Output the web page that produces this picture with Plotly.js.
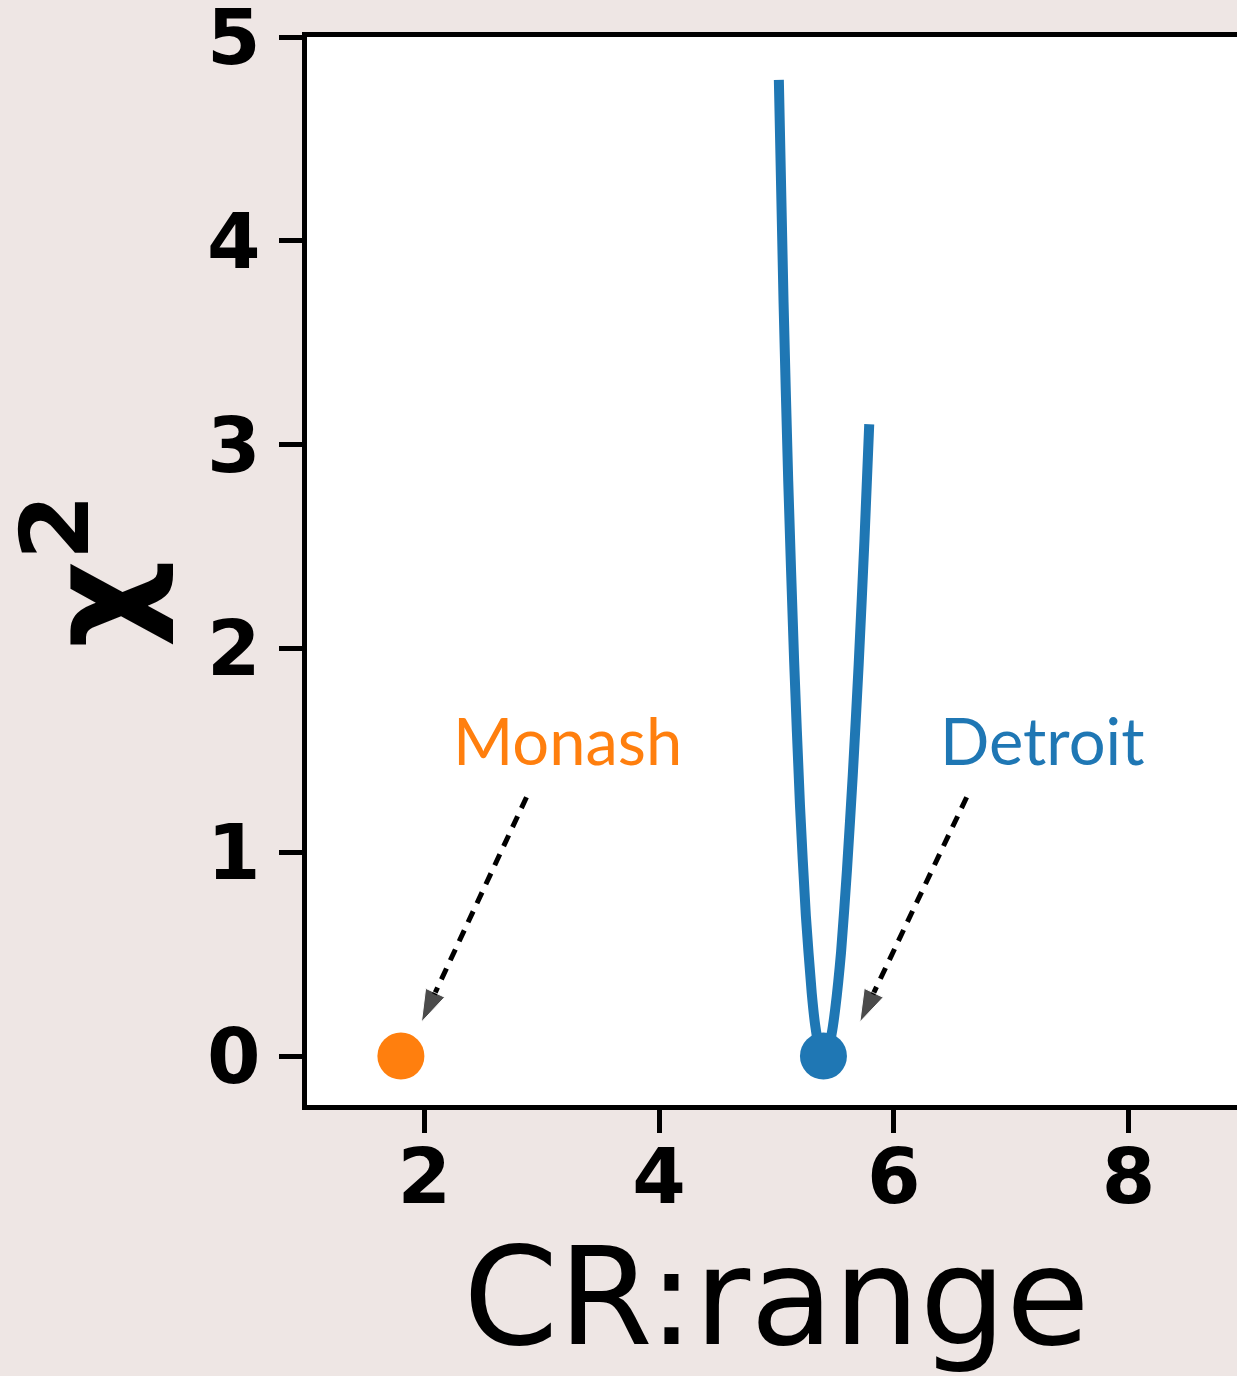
<!DOCTYPE html>
<html>
<head>
<meta charset="utf-8">
<script src="https://cdn.plot.ly/plotly-3.0.1.min.js"></script>
<style>
  html, body { margin: 0; padding: 0; overflow: hidden; background: #EEE6E4; }
  #chart { width: 1260px; height: 1376px; }
</style>
</head>
<body>
<div id="chart"></div>
<script>
// Detroit chi^2 curve
const detroitX = [5.02, 5.06, 5.10, 5.15, 5.20, 5.25, 5.30, 5.33, 5.36, 5.38, 5.40, 5.42, 5.44, 5.47, 5.50, 5.55, 5.60, 5.65, 5.70, 5.75, 5.79];
const detroitY = [4.79, 3.70, 2.82, 1.94, 1.23, 0.69, 0.31, 0.15, 0.05, 0.012, 0.00, 0.009, 0.035, 0.11, 0.23, 0.51, 0.91, 1.38, 1.92, 2.54, 3.10];

// Best-fit points
const pointNames = ["Monash", "Detroit"];
const pointX = [1.80, 5.40];
const pointY = [0.0, 0.0];

// Labels and arrows (data coordinates)
const labelX = [3.22, 7.26];
const labelY = [1.55, 1.55];
const arrowTailX = [2.87, 6.62];
const arrowTailY = [1.27, 1.27];
const arrowTipX = [1.975, 5.71];
const arrowTipY = [0.167, 0.167];

const xTicks = [2, 4, 6, 8];
const yTicks = [0, 1, 2, 3, 4, 5];

const BLUE = "#1F77B4";
const ORANGE = "#FF7F0E";
const pointColors = [ORANGE, BLUE];

const traces = [
  {
    x: detroitX, y: detroitY, type: "scatter", mode: "lines",
    line: { color: BLUE, width: 10, shape: "spline", smoothing: 0.6 }, hoverinfo: "skip"
  },
  {
    x: pointX, y: pointY, type: "scatter", mode: "markers",
    marker: { color: pointColors, size: 47 }, text: pointNames, hoverinfo: "text"
  }
];

for (let i = 0; i < pointNames.length; i++) {
  traces.push({
    x: [arrowTailX[i], arrowTipX[i]], y: [arrowTailY[i], arrowTipY[i]],
    type: "scatter", mode: "lines+markers",
    line: { color: "black", width: 5, dash: "12px,9px" },
    marker: { symbol: "arrow", angleref: "previous", size: [0, 34], color: "black" },
    hoverinfo: "skip"
  });
}

const annotations = pointNames.map((n, i) => ({
  x: labelX[i], y: labelY[i], xref: "x", yref: "y",
  text: n, showarrow: false,
  font: { family: "Lato, 'Noto Sans', sans-serif", size: 65, color: pointColors[i] },
  xanchor: "center", yanchor: "middle"
}));

const tickFont = { family: "'DejaVu Sans', sans-serif", size: 77, color: "black", weight: 700 };

const layout = {
  width: 1260, height: 1376,
  margin: { l: 307, r: 14, t: 37, b: 271, pad: 0 },
  paper_bgcolor: "#EEE6E4",
  plot_bgcolor: "white",
  showlegend: false,
  xaxis: {
    range: [1, 9], tickvals: xTicks, ticktext: xTicks.map(String),
    showgrid: false, zeroline: false,
    showline: true, mirror: true, linecolor: "black", linewidth: 5,
    ticks: "outside", ticklen: 23, tickwidth: 5, tickcolor: "black",
    ticklabelstandoff: -22, ticklabeloverflow: "allow",
    tickfont: tickFont,
    title: { text: "CR:range", font: { family: "'DejaVu Sans', sans-serif", size: 136, color: "black" }, standoff: 76 },
    automargin: false
  },
  yaxis: {
    range: [-0.24, 5.0], tickvals: yTicks, ticktext: yTicks.map(String),
    showgrid: false, zeroline: false,
    showline: true, mirror: false, linecolor: "black", linewidth: 5,
    ticks: "outside", ticklen: 23, tickwidth: 5, tickcolor: "black",
    ticklabelstandoff: 3, ticklabeloverflow: "allow",
    tickfont: tickFont,
    title: { text: "χ<sup>2</sup>", font: { family: "'DejaVu Sans', sans-serif", size: 136, color: "black", weight: 700 }, standoff: 63 },
    automargin: false
  },
  annotations: annotations
};

Plotly.newPlot("chart", traces, layout, { staticPlot: true, displayModeBar: false });
</script>
</body>
</html>
